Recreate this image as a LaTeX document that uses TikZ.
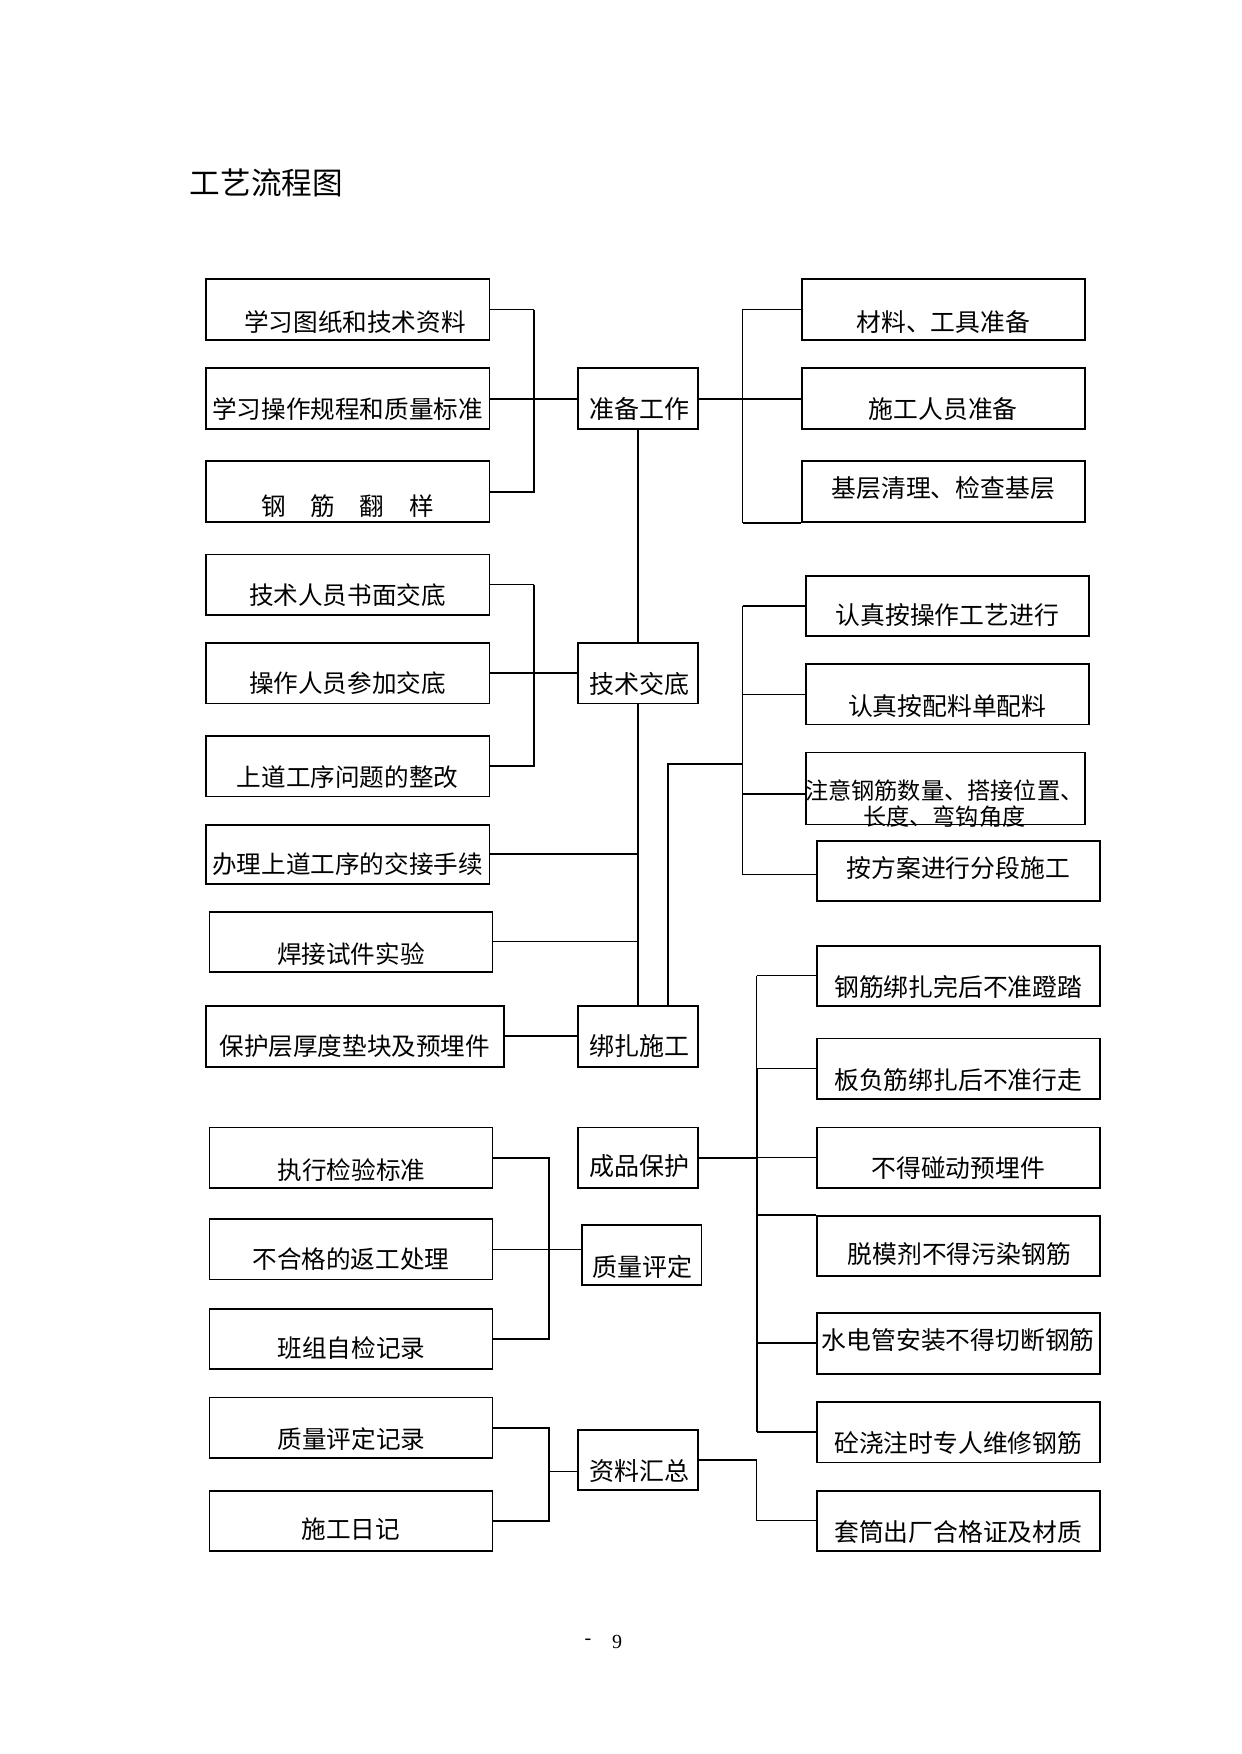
\documentclass[tikz,border=0pt]{standalone}
\usepackage{fontspec}
\setmainfont{Liberation Serif}
\newfontfamily\cjk{Noto Sans CJK SC}
\usetikzlibrary{calc,fit}
\tikzset{
  bx/.style={draw, line width=0.8pt, inner sep=0pt, rectangle},
  thk/.style={line width=1pt},
  thn/.style={line width=0.5pt},
  tl/.style={font=\cjk\fontsize{12.3}{13}\selectfont, inner sep=0pt},
  tr/.style={font=\cjk\fontsize{12.4}{13}\selectfont, inner sep=0pt},
  tc/.style={font=\cjk\fontsize{12.5}{13}\selectfont, inner sep=0pt},
  td/.style={font=\cjk\fontsize{11.6}{13}\selectfont, inner sep=0pt, align=center},
}
\newcommand{\bxnode}[9]{%
  \node[bx, fit={(#2,#3)(#4,#5)}] (#1) {};
  \node[#6] (#1t) at ($(#1.center)+(#7,#8)$) {#9};
}
\begin{document}
\begin{tikzpicture}[x=0.5pt, y=-0.5pt]
\useasboundingbox (0,0) rectangle (1241,1754);

\node[font=\cjk\fontsize{15.3}{16}\selectfont, inner sep=0pt] (title) at (266.3,182.5) {工艺流程图};

% left column
\bxnode{a1}{205.7}{279.3}{489.3}{340}{tl}{7.5}{12}{学习图纸和技术资料}
\bxnode{a2}{205.7}{368.3}{489.3}{429}{tl}{0}{10}{学习操作规程和质量标准}
\bxnode{a3}{205.7}{461.3}{489.3}{522}{tl}{0}{15}{钢\hspace{1em}筋\hspace{1em}翻\hspace{1em}样}
\bxnode{c1}{205.7}{554.3}{489.3}{614.7}{tl}{0}{10.5}{技术人员书面交底}
\bxnode{c2}{205.7}{643}{489.3}{703.3}{tl}{0}{10}{操作人员参加交底}
\bxnode{c3}{205.7}{736}{489.3}{796.3}{tl}{0}{11}{上道工序问题的整改}
\bxnode{c4}{205.7}{824.7}{489.3}{884}{tl}{0}{10}{办理上道工序的交接手续}
\bxnode{e1}{209.3}{911.7}{492.5}{972}{tl}{0}{12}{焊接试件实验}
\bxnode{e2}{205.7}{1006}{503.9}{1066.7}{tl}{0}{10}{保护层厚度垫块及预埋件}
\bxnode{g1}{209.3}{1127.3}{492.5}{1187.7}{tl}{0.5}{12.5}{执行检验标准}
\bxnode{g2}{209.3}{1219}{492.5}{1279.3}{tl}{0}{10}{不合格的返工处理}
\bxnode{g3}{209.3}{1309}{492.5}{1369}{tl}{0.5}{9}{班组自检记录}
\bxnode{h1}{209.3}{1397.3}{492.5}{1457.7}{tl}{0.5}{12}{质量评定记录}
\bxnode{h2}{209.3}{1490.7}{492.5}{1551}{tl}{0}{8.5}{施工日记}

% centre column
\bxnode{zb}{578.2}{368.3}{697.9}{429}{tc}{1}{10}{准备工作}
\bxnode{jd}{578.2}{643}{697.9}{703.3}{tc}{1}{11}{技术交底}
\bxnode{bz}{578.2}{1006}{697.9}{1066.7}{tc}{1}{10}{绑扎施工}
\bxnode{cp}{578.2}{1127.3}{697.9}{1187.7}{tc}{1}{9}{成品保护}
\bxnode{zl}{581.8}{1225}{701.4}{1285}{tc}{1}{12}{质量评定}
\bxnode{zh}{578.2}{1430}{697.9}{1490}{tc}{1}{11}{资料汇总}

% right column
\bxnode{b1}{801.7}{279.3}{1085}{340}{tr}{0}{12}{材料、工具准备}
\bxnode{b2}{801.7}{368.3}{1085}{429}{tr}{0}{10}{施工人员准备}
\bxnode{b3}{801.7}{461.3}{1085}{521.7}{tr}{0}{-3}{基层清理、检查基层}
\bxnode{d1}{805.7}{575.7}{1089}{636}{tr}{0}{9}{认真按操作工艺进行}
\bxnode{d2}{805.7}{664}{1089}{724.3}{tr}{0}{12}{认真按配料单配料}
\bxnode{d3}{805.7}{752.3}{1085}{824.3}{td}{-1}{15}{注意钢筋数量、搭接位置、\\长度、弯钩角度}
\bxnode{d4}{816.7}{840.7}{1100}{901}{tr}{0}{-2.5}{按方案进行分段施工}
\bxnode{f1}{816.7}{945.7}{1100}{1006}{tr}{0}{11}{钢筋绑扎完后不准蹬踏}
\bxnode{f2}{816.7}{1038.3}{1100}{1099}{tr}{0}{11}{板负筋绑扎后不准行走}
\bxnode{f3}{816.7}{1127.3}{1100}{1187.7}{tr}{0}{11}{不得碰动预埋件}
\bxnode{f4}{816.7}{1216}{1100}{1276}{tr}{1}{8.5}{脱模剂不得污染钢筋}
\bxnode{f5}{816.7}{1312.7}{1100}{1374}{tr}{0}{-3}{水电管安装不得切断钢筋}
\bxnode{f6}{816.7}{1401.7}{1100}{1462.3}{tr}{0}{11}{砼浇注时专人维修钢筋}
\bxnode{f7}{816.7}{1490.7}{1100}{1551}{tr}{0}{11}{套筒出厂合格证及材质}

% junction coordinates
\coordinate (jA) at (533.6,400.7);
\coordinate (jB) at (742.7,400);
\coordinate (jC) at (533.6,670);
\coordinate (jE) at (668.2,764);
\coordinate (jD) at (742.7,764);
\coordinate (jF) at (756.7,1157.5);
\coordinate (jG) at (548.6,1250);
\coordinate (d3c) at ($(d3.west)+(0,6)$);
\coordinate (d4c) at ($(d4.west)+(0,4)$);
\coordinate (hm) at ($(zh.west)+(0,11)$);

% A group
\draw[thn] (a1.east) -- (a1.east -| jA);
\draw[thk] (a1.east -| jA) -- (a3.east -| jA) -- (a3.east);
\draw[thk] (a2.east) -- (zb.west);
% B group
\draw[thk] (zb.east) -- (b2.west);
\draw[thn] (b1.west) -- (b1.west -| jB) -- (b3.south west -| jB);
\draw[thk] (b3.south west -| jB) -- (b3.south west);
% main spine
\draw[thk] (zb.south) -- (jd.north);
\draw[thk] (jd.south) -- (bz.north);
% C group
\draw[thn] (c1.east) -- (c1.east -| jC);
\draw[thk] (c1.east -| jC) -- (c3.east -| jC) -- (c3.east);
\draw[thk] (c2.east) -- (jd.west);
\draw[thk] (c4.east) -- (c4.east -| jd.south);
\draw[thn] (e1.east) -- (e1.east -| jd.south);
\draw[thk] (e2.east) -- (bz.west);
% D group
\draw[thk] (bz.north -| jE) -- (jE) -- (jD);
\draw[thn] (d1.west -| jD) -- (d4c -| jD);
\draw[thk] (d1.west -| jD) -- (d1.west);
\draw[thn] (d2.west -| jD) -- (d2.west);
\draw[thk] (d3c -| jD) -- (d3c);
\draw[thn] (d4c -| jD) -- (d4c);
% F group
\draw[thk] (cp.east) -- (cp.east -| jF);
\draw[thn] (f1.west -| jF) -- (f2.west -| jF);
\draw[thk] (f2.west -| jF) -- (f6.west -| jF);
\draw[thn] (f1.west -| jF) -- (f1.west);
\draw[thn] (f2.west -| jF) -- (f2.west);
\draw[thn] (f3.west -| jF) -- (f3.west);
\draw[thk] (f4.north west -| jF) -- (f4.north west);
\draw[thk] (f5.west -| jF) -- (f5.west);
\draw[thk] (f6.west -| jF) -- (f6.west);
\draw[thk] (zh.east) -- (zh.east -| jF);
\draw[thn] (zh.east -| jF) -- (f7.west -| jF) -- (f7.west);
% G group
\draw[thk] (g1.east) -| (g3.east -| jG) -- (g3.east);
\draw[thn] (g2.east) -- (g2.east -| zl.west);
% H group
\draw[thk] (h1.east) -| (h2.east -| jG) -- (h2.east);
\draw[thn] (hm -| jG) -- (hm);

% page number
\node[font=\fontsize{10}{12}\selectfont, inner sep=0pt] (pg1) at (588,1642) {-};
\node[font=\fontsize{10}{12}\selectfont, inner sep=0pt] (pg2) at (617,1642) {9};
\end{tikzpicture}
\end{document}
